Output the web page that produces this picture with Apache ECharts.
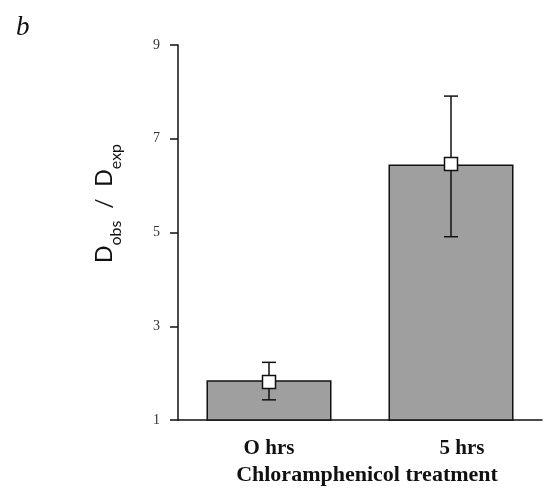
<!DOCTYPE html>
<html>
<head>
<meta charset="utf-8">
<script src="https://cdn.jsdelivr.net/npm/echarts@6/dist/echarts.min.js"></script>
<style>
  html, body { margin: 0; padding: 0; background: #fff; }
  #chart { width: 548px; height: 494px; }
</style>
</head>
<body>
<div id="chart"></div>
<script>
// values
const categories = ['O hrs', '5 hrs'];
const barValues = [1.85, 6.45];
const meanValues = [1.81, 6.46];
const errLow = [1.43, 4.91];
const errHigh = [2.23, 7.91];

const serif = '"Liberation Serif", "Times New Roman", serif';

const errData = categories.map((c, i) => [i, errLow[i], errHigh[i]]);

const el = document.getElementById('chart');
const chart = echarts.init(el);

chart.setOption({
    animation: false,
    backgroundColor: '#fff',
    title: {
        text: 'b',
        left: 11,
        top: 9,
        textStyle: { fontFamily: serif, fontStyle: 'italic', fontWeight: 'normal', fontSize: 27, color: '#111' }
    },
    grid: { left: 178, right: 6, top: 45, bottom: 74 },
    xAxis: {
        type: 'category',
        data: [categories[0], { value: categories[1], textStyle: { padding: [0, 0, 0, 22] } }],
        axisLine: { lineStyle: { color: '#111', width: 1.5 } },
        axisTick: { show: false },
        axisLabel: { fontFamily: serif, fontWeight: 'bold', fontSize: 21, color: '#111', margin: 18 },
        name: 'Chloramphenicol treatment',
        nameLocation: 'middle',
        nameGap: 44,
        nameTextStyle: { fontFamily: serif, fontWeight: 'bold', fontSize: 22, color: '#111', padding: [0, 0, 0, 14] }
    },
    yAxis: {
        type: 'value',
        min: 1,
        max: 9,
        interval: 2,
        splitLine: { show: false },
        axisLine: { show: true, lineStyle: { color: '#111', width: 1.5 } },
        axisTick: { show: true, length: 8, lineStyle: { color: '#111', width: 1.5 } },
        axisLabel: { fontFamily: serif, fontSize: 14, color: '#333', margin: 18 },
        name: '{d|D}{s|obs}{d|  /  D}{s|exp}',
        nameLocation: 'middle',
        nameGap: 54,
        nameTextStyle: {
            padding: [0, 0, 0, 58],
            rich: {
                d: { fontFamily: 'Lato, "Open Sans", sans-serif', fontSize: 23, color: '#111', lineHeight: 31, verticalAlign: 'top' },
                s: { fontFamily: 'Lato, "Open Sans", sans-serif', fontSize: 16, color: '#111', lineHeight: 31, verticalAlign: 'bottom' }
            }
        }
    },
    series: [
        {
            type: 'bar',
            data: barValues,
            barWidth: '68.7%',
            itemStyle: { color: '#9f9f9f', borderColor: '#111', borderWidth: 1.5 }
        },
        {
            type: 'custom',
            data: errData,
            z: 5,
            renderItem: (params, api) => {
                const lo = api.coord([api.value(0), api.value(1)]);
                const hi = api.coord([api.value(0), api.value(2)]);
                const half = 7;
                const style = { stroke: '#111', lineWidth: 1.5 };
                return {
                    type: 'group',
                    children: [
                        { type: 'line', shape: { x1: hi[0], y1: hi[1], x2: lo[0], y2: lo[1] }, style },
                        { type: 'line', shape: { x1: hi[0] - half, y1: hi[1], x2: hi[0] + half, y2: hi[1] }, style },
                        { type: 'line', shape: { x1: lo[0] - half, y1: lo[1], x2: lo[0] + half, y2: lo[1] }, style }
                    ]
                };
            }
        },
        {
            type: 'scatter',
            data: meanValues,
            z: 6,
            symbol: 'rect',
            symbolSize: 13,
            itemStyle: { color: '#fff', borderColor: '#111', borderWidth: 1.5, opacity: 1 }
        }
    ]
});
window.onresize = () => chart.resize();
</script>
</body>
</html>
